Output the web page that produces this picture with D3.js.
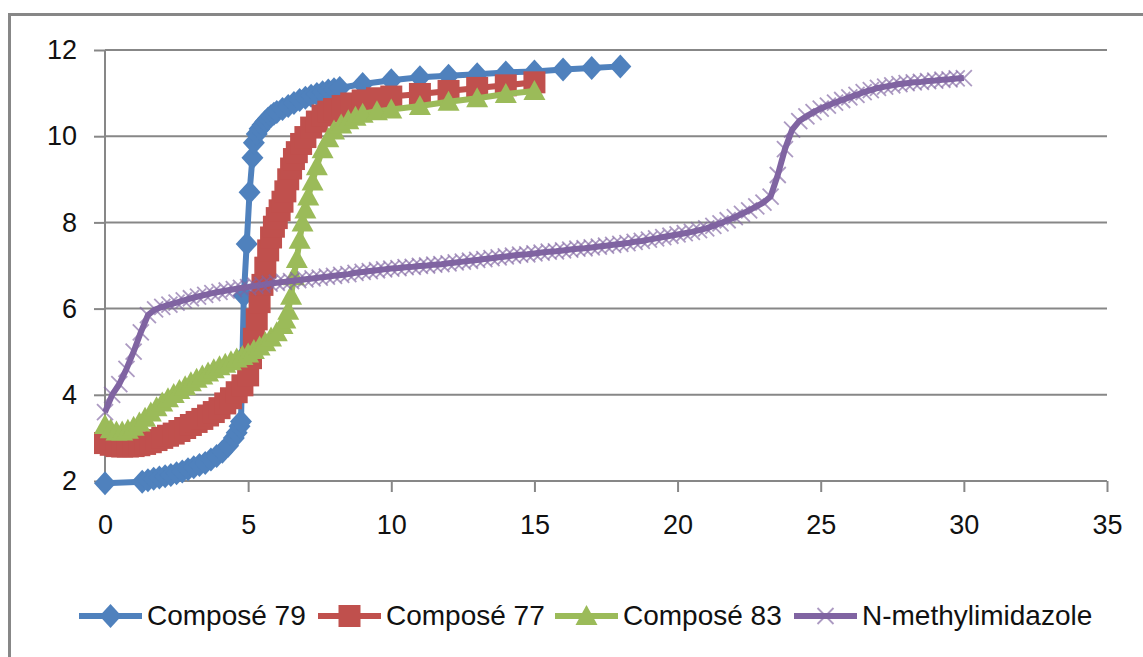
<!DOCTYPE html>
<html>
<head>
<meta charset="utf-8">
<script src="https://cdn.jsdelivr.net/npm/d3@7"></script>
<style>
  body { margin: 0; background: #fff; }
  text { font-family: "Liberation Sans", Arial, sans-serif; fill: #111; }
</style>
</head>
<body>
<div id="chart"></div>
<script>

var xTicks = [0, 5, 10, 15, 20, 25, 30, 35];
var yTicks = [2, 4, 6, 8, 10, 12];
var seriesNames = ["Composé 79", "Composé 77", "Composé 83", "N-methylimidazole"];
var seriesColors = ["#4F81BD", "#C0504D", "#9BBB59", "#8064A2"];
var seriesMarkers = ["diamond", "square", "triangle", "x"];

// Composé 79 (volume, pH)
var compose79 = [
    [0, 1.95], [1.3, 1.98], [1.5, 2.02], [1.7, 2.05], [1.9, 2.08], [2.1, 2.11], [2.3, 2.14],
    [2.5, 2.18], [2.7, 2.22], [2.9, 2.27], [3.1, 2.32], [3.3, 2.37], [3.5, 2.42], [3.7, 2.5],
    [3.9, 2.58], [4.1, 2.68], [4.3, 2.82], [4.5, 3.0], [4.6, 3.12], [4.7, 3.27], [4.75, 3.38],
    [4.8, 4.85], [4.85, 6.3], [4.95, 7.5], [5.05, 8.7], [5.15, 9.5], [5.2, 9.85], [5.3, 10.05],
    [5.4, 10.17], [5.5, 10.26], [5.6, 10.34], [5.7, 10.41], [5.8, 10.47], [5.9, 10.52],
    [6.0, 10.56], [6.2, 10.63], [6.4, 10.7], [6.6, 10.77], [6.8, 10.84], [7.0, 10.89],
    [7.2, 10.94], [7.4, 10.98], [7.6, 11.02], [7.8, 11.06], [8.0, 11.09], [8.2, 11.12],
    [9, 11.21], [10, 11.3], [11, 11.37], [12, 11.4], [13, 11.44], [14, 11.48], [15, 11.5],
    [16, 11.55], [17, 11.58], [18, 11.62]
];

// Composé 77
var compose77 = [
    [0, 2.88], [0.2, 2.84], [0.4, 2.81], [0.6, 2.8], [0.8, 2.8], [1.0, 2.81], [1.2, 2.83],
    [1.4, 2.86], [1.6, 2.9], [1.8, 2.95], [2.0, 3.0], [2.2, 3.05], [2.4, 3.1], [2.6, 3.16],
    [2.8, 3.23], [3.0, 3.3], [3.2, 3.37], [3.4, 3.44], [3.6, 3.52], [3.8, 3.6], [4.0, 3.69],
    [4.2, 3.8], [4.4, 3.92], [4.6, 4.06], [4.8, 4.22], [5.0, 4.45], [5.1, 4.85], [5.2, 5.3],
    [5.3, 5.75], [5.4, 6.15], [5.5, 6.55], [5.6, 6.95], [5.7, 7.35], [5.8, 7.65], [5.9, 7.9],
    [6.0, 8.1], [6.1, 8.28], [6.2, 8.48], [6.3, 8.72], [6.4, 9.0], [6.5, 9.25], [6.6, 9.47],
    [6.7, 9.63], [6.85, 9.82], [7.0, 9.98], [7.2, 10.2], [7.4, 10.34], [7.6, 10.48],
    [7.8, 10.57], [8.0, 10.63], [8.3, 10.7], [8.6, 10.76], [9.0, 10.83], [9.5, 10.88],
    [10, 10.92], [11, 10.98], [12, 11.05], [13, 11.12], [14, 11.18], [15, 11.25]
];

// Composé 83
var compose83 = [
    [0, 3.3], [0.2, 3.2], [0.4, 3.15], [0.6, 3.15], [0.8, 3.19], [1.0, 3.26], [1.2, 3.36],
    [1.4, 3.47], [1.6, 3.59], [1.8, 3.71], [2.0, 3.82], [2.2, 3.92], [2.4, 4.02], [2.6, 4.11],
    [2.8, 4.2], [3.0, 4.29], [3.2, 4.37], [3.4, 4.45], [3.6, 4.52], [3.8, 4.59], [4.0, 4.66],
    [4.2, 4.72], [4.4, 4.78], [4.6, 4.84], [4.8, 4.9], [5.0, 4.96], [5.2, 5.04], [5.4, 5.12],
    [5.6, 5.22], [5.8, 5.33], [6.0, 5.45], [6.2, 5.62], [6.3, 5.75], [6.4, 5.95], [6.5, 6.3],
    [6.6, 6.75], [6.7, 7.15], [6.8, 7.6], [6.9, 8.0], [7.0, 8.3], [7.1, 8.6], [7.25, 8.95],
    [7.4, 9.3], [7.6, 9.7], [7.8, 9.95], [8.0, 10.13], [8.25, 10.27], [8.5, 10.37],
    [8.75, 10.45], [9.0, 10.52], [9.5, 10.58], [10, 10.62], [11, 10.7], [12, 10.8],
    [13, 10.88], [14, 10.98], [15, 11.05]
];

// N-methylimidazole
var nMethylimidazole = [
    [0, 3.6], [0.25, 4.0], [0.5, 4.25], [0.75, 4.6], [1.0, 5.0], [1.25, 5.45], [1.5, 5.85],
    [1.75, 5.98], [2, 6.04], [2.25, 6.09], [2.5, 6.14], [2.75, 6.19], [3, 6.24], [3.25, 6.28],
    [3.5, 6.32], [3.75, 6.36], [4, 6.39], [4.25, 6.42], [4.5, 6.45], [4.75, 6.48], [5, 6.5],
    [5.25, 6.53], [5.5, 6.55], [5.75, 6.58], [6, 6.6], [6.25, 6.62], [6.5, 6.64], [6.75, 6.66],
    [7, 6.68], [7.25, 6.7], [7.5, 6.72], [7.75, 6.74], [8, 6.76], [8.25, 6.78], [8.5, 6.8],
    [8.75, 6.83], [9, 6.85], [9.25, 6.87], [9.5, 6.89], [9.75, 6.91], [10, 6.93], [10.25, 6.94],
    [10.5, 6.96], [10.75, 6.97], [11, 6.99], [11.25, 7.0], [11.5, 7.02], [11.75, 7.03],
    [12, 7.05], [12.25, 7.07], [12.5, 7.09], [12.75, 7.11], [13, 7.13], [13.25, 7.15],
    [13.5, 7.17], [13.75, 7.19], [14, 7.21], [14.25, 7.23], [14.5, 7.25], [14.75, 7.26],
    [15, 7.28], [15.25, 7.3], [15.5, 7.32], [15.75, 7.33], [16, 7.35], [16.25, 7.37],
    [16.5, 7.39], [16.75, 7.4], [17, 7.42], [17.25, 7.44], [17.5, 7.46], [17.75, 7.48],
    [18, 7.5], [18.25, 7.52], [18.5, 7.55], [18.75, 7.57], [19, 7.6], [19.25, 7.63],
    [19.5, 7.66], [19.75, 7.69], [20, 7.72], [20.25, 7.75], [20.5, 7.78], [20.75, 7.82],
    [21, 7.86], [21.25, 7.92], [21.5, 7.98], [21.75, 8.05], [22, 8.12], [22.25, 8.2],
    [22.5, 8.28], [22.75, 8.37], [23, 8.46], [23.25, 8.6], [23.5, 9.1], [23.75, 9.7],
    [24, 10.15], [24.25, 10.35], [24.5, 10.46], [24.75, 10.56], [25, 10.64], [25.25, 10.71],
    [25.5, 10.78], [25.75, 10.84], [26, 10.9], [26.25, 10.96], [26.5, 11.02], [26.75, 11.07],
    [27, 11.12], [27.25, 11.15], [27.5, 11.18], [27.75, 11.21], [28, 11.23], [28.25, 11.25],
    [28.5, 11.26], [28.75, 11.28], [29, 11.29], [29.25, 11.31], [29.5, 11.32], [29.75, 11.34],
    [30, 11.35]
];

var allSeries = [compose79, compose77, compose83, nMethylimidazole];

var width = 1143, height = 657;

var svg = d3.select("#chart").append("svg")
    .attr("width", width)
    .attr("height", height);

svg.append("rect")
    .attr("width", width).attr("height", height)
    .attr("fill", "#fff");

// outer chart border (cut off at the right and bottom)
svg.append("rect")
    .attr("x", 9.5).attr("y", 14.5)
    .attr("width", 1300).attr("height", 800)
    .attr("fill", "none")
    .attr("stroke", "#878787")
    .attr("stroke-width", 3);

var x = d3.scaleLinear().domain([0, 35]).range([105, 1107]);
var y = d3.scaleLinear().domain([2, 12]).range([481, 50]);

// gridlines
svg.append("g")
    .selectAll("line")
    .data(yTicks.slice(1))
    .enter().append("line")
    .attr("x1", x(0)).attr("x2", x(35))
    .attr("y1", function(d) { return y(d); })
    .attr("y2", function(d) { return y(d); })
    .attr("stroke", "#878787")
    .attr("stroke-width", 2);

// axes
var yAxis = svg.append("g")
    .attr("transform", "translate(" + x(0) + ",0)")
    .call(d3.axisLeft(y).tickValues(yTicks).tickSize(11).tickPadding(17));

var xAxis = svg.append("g")
    .attr("transform", "translate(0," + y(2) + ")")
    .call(d3.axisBottom(x).tickValues(xTicks).tickSize(11).tickPadding(33));

[yAxis, xAxis].forEach(function(ax) {
    ax.select(".domain").remove();
    ax.selectAll("line").attr("stroke", "#878787").attr("stroke-width", 2);
    ax.selectAll("text")
        .style("font-family", "\"Liberation Sans\", Arial, sans-serif")
        .style("font-size", "27px")
        .attr("fill", "#111");
});
xAxis.selectAll("text").attr("dy", "0.35em");

svg.append("line")
    .attr("x1", x(0)).attr("x2", x(0))
    .attr("y1", y(12)).attr("y2", y(2))
    .attr("stroke", "#878787").attr("stroke-width", 2);
svg.append("line")
    .attr("x1", x(0)).attr("x2", x(35))
    .attr("y1", y(2)).attr("y2", y(2))
    .attr("stroke", "#878787").attr("stroke-width", 2);

// marker shapes
function markerPath(type) {
    if (type === "diamond") return "M0,-12L11,0L0,12L-11,0Z";
    if (type === "square") return "M-11,-11H11V11H-11Z";
    if (type === "triangle") return "M0,-11L11,9L-11,9Z";
    return "M-8,-8L8,8M-8,8L8,-8";
}

function drawMarker(g, type, color) {
    var p = g.append("path").attr("d", markerPath(type));
    if (type === "x") {
        p.attr("fill", "none").attr("stroke", color)
            .attr("stroke-width", 1.8).attr("stroke-opacity", 0.65);
    } else {
        p.attr("fill", color);
    }
}

var line = d3.line()
    .x(function(d) { return x(d[0]); })
    .y(function(d) { return y(d[1]); });

allSeries.forEach(function(data, i) {
    var g = svg.append("g");
    g.append("path")
        .datum(data)
        .attr("d", line)
        .attr("fill", "none")
        .attr("stroke", seriesColors[i])
        .attr("stroke-width", 6)
        .attr("stroke-linejoin", "round");

    g.selectAll("g.marker")
        .data(data)
        .enter().append("g")
        .attr("class", "marker")
        .attr("transform", function(d) { return "translate(" + x(d[0]) + "," + y(d[1]) + ")"; })
        .each(function() { drawMarker(d3.select(this), seriesMarkers[i], seriesColors[i]); });
});

// legend
var legendX = [79, 318, 555, 794];
var legendY = 616;

seriesNames.forEach(function(name, i) {
    var g = svg.append("g").attr("transform", "translate(" + legendX[i] + "," + legendY + ")");
    g.append("line")
        .attr("x1", 0).attr("x2", 63)
        .attr("stroke", seriesColors[i])
        .attr("stroke-width", 6);
    var m = g.append("g").attr("transform", "translate(31.5,0)");
    drawMarker(m, seriesMarkers[i], seriesColors[i]);
    g.append("text")
        .attr("x", 68)
        .attr("y", 9)
        .style("font-size", "28px")
        .text(name);
});

</script>
</body>
</html>
